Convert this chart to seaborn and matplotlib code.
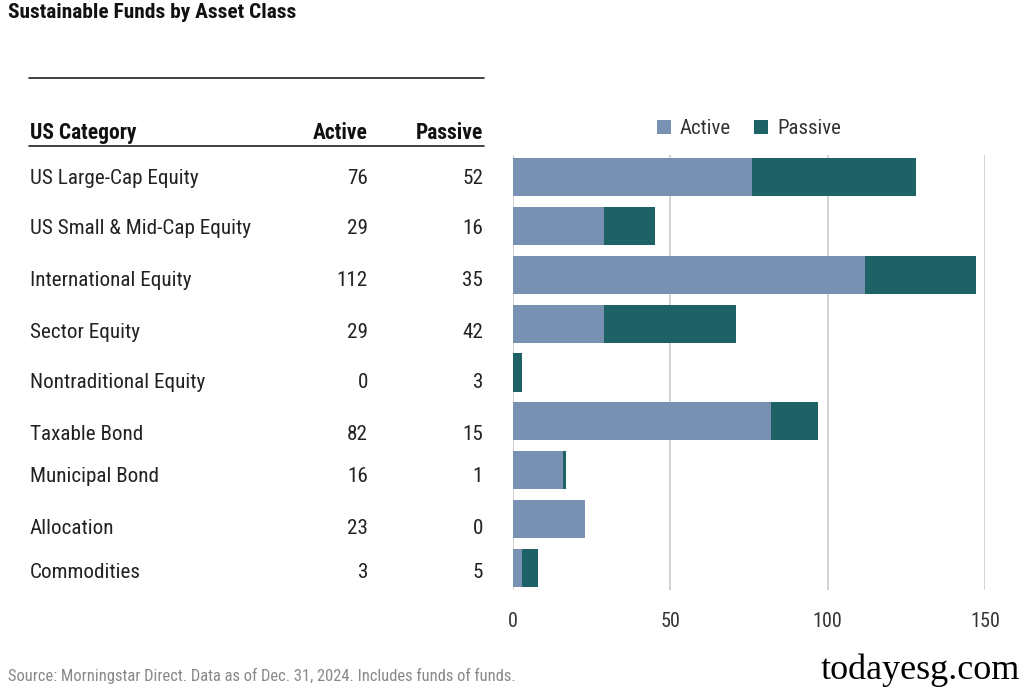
import matplotlib
matplotlib.use("Agg")
import matplotlib.pyplot as plt
from matplotlib import font_manager
import seaborn as sns
import pandas as pd

categories = ["US Large-Cap Equity", "US Small & Mid-Cap Equity", "International Equity",
              "Sector Equity", "Nontraditional Equity", "Taxable Bond", "Municipal Bond",
              "Allocation", "Commodities"]
active = [76, 29, 112, 29, 0, 82, 16, 23, 3]
passive = [52, 16, 35, 42, 3, 15, 1, 0, 5]
xticks = [0, 50, 100, 150]

title = "Sustainable Funds by Asset Class"
source = "Source: Morningstar Direct. Data as of Dec. 31, 2024. Includes funds of funds."
watermark = "todayesg.com"

C_ACTIVE = "#7890b2"
C_PASSIVE = "#1f6265"

names = {f.name for f in font_manager.fontManager.ttflist}
FONT = "DejaVu Sans"
for cand in ["Roboto Condensed", "Liberation Sans Narrow", "Arial Narrow", "Roboto"]:
    if cand in names:
        FONT = cand
        break

sns.set_theme(style="white")
plt.rcParams["font.family"] = [FONT, "DejaVu Sans"]

df = pd.DataFrame({"category": categories, "active": active, "passive": passive})
df["total"] = df["active"] + df["passive"]

fig = plt.figure(figsize=(10.24, 6.91), dpi=100)
ax = fig.add_axes([513/1024, 1-590/691, (985-513)/1024, (590-155)/691])

sns.barplot(data=df, y="category", x="total", color=C_PASSIVE, width=0.78,
            orient="h", ax=ax, label="Passive", saturation=1, linewidth=0)
sns.barplot(data=df, y="category", x="active", color=C_ACTIVE, width=0.78,
            orient="h", ax=ax, label="Active", saturation=1, linewidth=0)

ax.set_xlim(0, 150)
ax.set_ylim(8.45, -0.45)
ax.set_xticks(xticks)
ax.set_xticklabels([str(t) for t in xticks], fontsize=14.5, color="#333333")
ax.tick_params(axis="x", length=0, pad=16)
ax.set_yticks([])
ax.set_xlabel("")
ax.set_ylabel("")
for s in ax.spines.values():
    s.set_visible(False)
ax.xaxis.grid(True, color="#cccccc", linewidth=1.2)
ax.set_axisbelow(True)

handles, labels = ax.get_legend_handles_labels()
order = [labels.index("Active"), labels.index("Passive")]
leg = ax.legend([handles[i] for i in order], [labels[i] for i in order],
                loc="lower center", bbox_to_anchor=(0.5, 0.995), ncol=2, frameon=False,
                fontsize=15, handlelength=0.65, handleheight=0.65, handletextpad=0.45,
                columnspacing=1.1, labelcolor="#333333")

# Title
fig.text(8/1024, 1-13/691, title, fontsize=15.4, fontweight="bold", va="center", ha="left",
         color="#111111")

# Table
line_kw = dict(color="#222222", linewidth=1.2, transform=fig.transFigure)
fig.add_artist(plt.Line2D([29/1024, 484/1024], [1-78/691, 1-78/691], **line_kw))
fig.add_artist(plt.Line2D([29/1024, 484/1024], [1-146/691, 1-146/691], **line_kw))
hy = 1-133/691
fig.text(30/1024, hy, "US Category", fontsize=15.5, fontweight="bold", va="center", color="#111111")
fig.text(368/1024, hy, "Active", fontsize=15.5, fontweight="bold", va="center", ha="right", color="#111111")
fig.text(483/1024, hy, "Passive", fontsize=15.5, fontweight="bold", va="center", ha="right", color="#111111")

row_y = [178, 228, 281, 332, 383, 434, 477, 529, 572]
for cat, a, p, yy in zip(categories, active, passive, row_y):
    y = 1 - yy/691
    fig.text(30/1024, y, cat, fontsize=15.2, va="center", color="#222222")
    fig.text(368/1024, y, str(a), fontsize=15.2, va="center", ha="right", color="#222222")
    fig.text(483/1024, y, str(p), fontsize=15.2, va="center", ha="right", color="#222222")

fig.text(8/1024, 1-676/691, source, fontsize=11.9, va="center", color="#888888")
fig.text(1020/1024, 1-670/691, watermark, fontsize=26, va="center", ha="right",
         family="Liberation Serif", color="#000000")

fig.savefig("out.png", dpi=100, facecolor="white")
